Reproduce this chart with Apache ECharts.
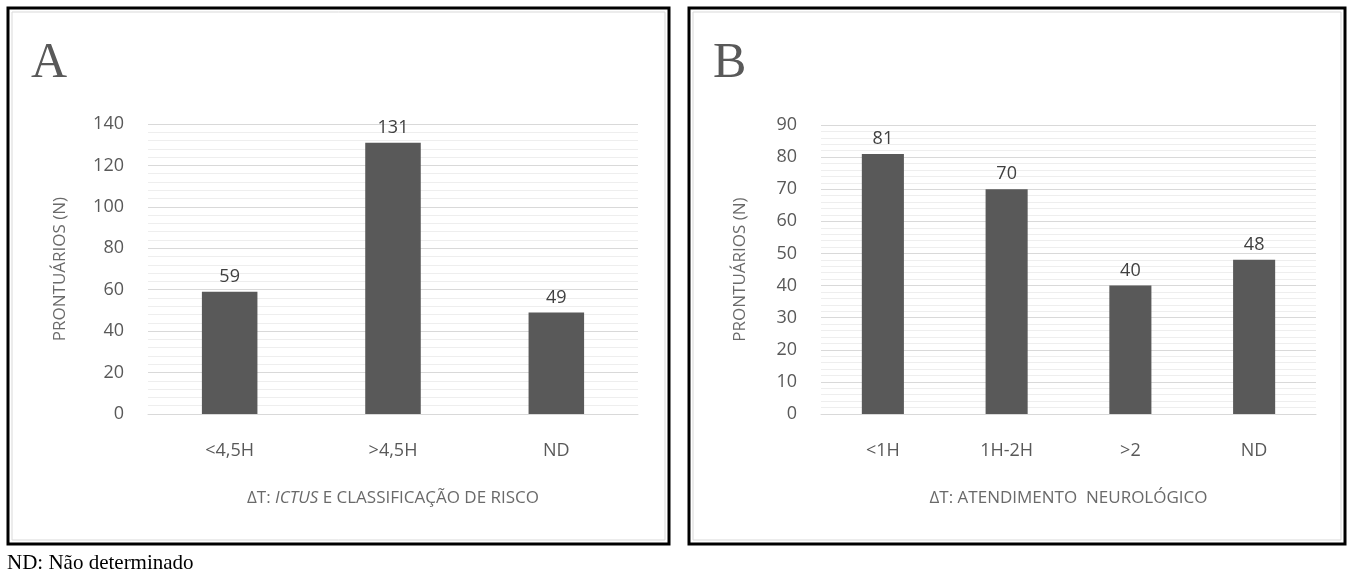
<!DOCTYPE html>
<html>
<head>
<meta charset="utf-8">
<script src="https://cdn.jsdelivr.net/npm/echarts@6/dist/echarts.min.js"></script>
<style>
html,body{margin:0;padding:0;background:#fff;}
#main{width:1354px;height:571px;}
</style>
</head>
<body>
<div id="main"></div>
<script>
// dados do painel A
var catA = ['<4,5H', '>4,5H', 'ND'];
var valA = [59, 131, 49];
// dados do painel B
var catB = ['<1H', '1H-2H', '>2', 'ND'];
var valB = [81, 70, 40, 48];

var fonte = '"Open Sans", "Liberation Sans", sans-serif';
var cinzaBarra = '#595959';

function eixoY(idx, max, intervalo){
	return {
		type: 'value', gridIndex: idx, min: 0, max: max, interval: intervalo,
		name: 'PRONTUÁRIOS (N)', nameLocation: 'middle', nameRotate: 90,
		nameGap: idx == 0 ? 79 : 72,
		nameTextStyle: {color: '#6a6a6a', fontSize: 17, fontFamily: fonte},
		axisLine: {show: false}, axisTick: {show: false},
		axisLabel: {color: '#595959', fontSize: 18, fontFamily: fonte, margin: 24},
		splitLine: {lineStyle: {color: '#d9d9d9', width: 1}},
		minorTick: {show: false, splitNumber: 5},
		minorSplitLine: {show: true, lineStyle: {color: '#eeeeee', width: 1}}
	};
}

function eixoX(idx, cats, titulo){
	return {
		type: 'category', gridIndex: idx, data: cats,
		axisLine: {lineStyle: {color: '#d9d9d9'}}, axisTick: {show: false},
		axisLabel: {color: '#595959', fontSize: 18, fontFamily: fonte, margin: 28},
		name: titulo, nameLocation: 'middle', nameGap: 76,
		nameTextStyle: {
			color: '#6a6a6a', fontSize: 17, fontFamily: fonte,
			rich: {it: {fontStyle: 'italic', color: '#6a6a6a', fontSize: 17, fontFamily: fonte}}
		}
	};
}

function serie(idx, vals){
	return {
		type: 'bar', xAxisIndex: idx, yAxisIndex: idx, data: vals,
		barWidth: '34%',
		itemStyle: {color: cinzaBarra},
		label: {show: true, position: 'top', distance: 6, color: '#404040', fontSize: 18, fontFamily: fonte},
		silent: true
	};
}

var myChart = echarts.init(document.getElementById('main'));
var option = {
	animation: false,
	backgroundColor: '#fff',
	title: [
		{text: 'A', left: 26, top: 34, textStyle: {fontFamily: '"Liberation Serif", serif', fontSize: 50, fontWeight: 'normal', color: '#595959'}},
		{text: 'B', left: 708, top: 34, textStyle: {fontFamily: '"Liberation Serif", serif', fontSize: 50, fontWeight: 'normal', color: '#595959'}},
		{text: 'ND: Não determinado', left: 2, top: 548, textStyle: {fontFamily: '"Liberation Serif", serif', fontSize: 21, fontWeight: 'normal', color: '#000'}}
	],
	grid: [
		{left: 148, top: 124, width: 490, height: 290},
		{left: 821, top: 125, width: 495, height: 289}
	],
	xAxis: [
		eixoX(0, catA, 'ΔT: {it|ICTUS} E CLASSIFICAÇÃO DE RISCO'),
		eixoX(1, catB, 'ΔT: ATENDIMENTO  NEUROLÓGICO')
	],
	yAxis: [eixoY(0, 140, 20), eixoY(1, 90, 10)],
	series: [serie(0, valA), serie(1, valB)],
	graphic: [
		{type: 'rect', shape: {x: 8, y: 8, width: 661, height: 536}, style: {fill: 'none', stroke: '#000', lineWidth: 3}},
		{type: 'rect', shape: {x: 12, y: 12, width: 653, height: 528}, style: {fill: 'none', stroke: '#d9d9d9', lineWidth: 1}},
		{type: 'rect', shape: {x: 689, y: 8, width: 656, height: 536}, style: {fill: 'none', stroke: '#000', lineWidth: 3}},
		{type: 'rect', shape: {x: 693, y: 12, width: 648, height: 528}, style: {fill: 'none', stroke: '#d9d9d9', lineWidth: 1}}
	]
};
myChart.setOption(option);
</script>
</body>
</html>
